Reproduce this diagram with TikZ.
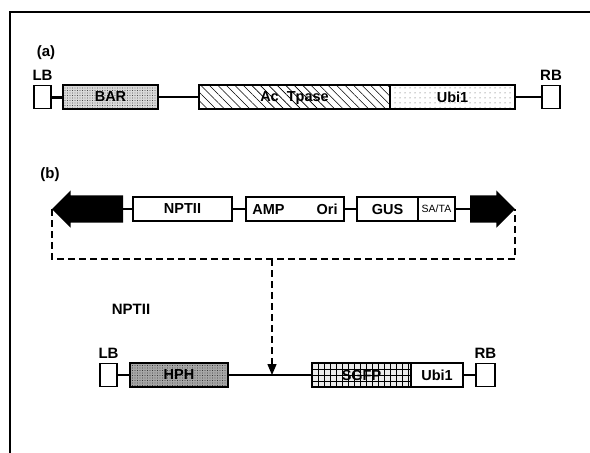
\documentclass[tikz,border=0pt]{standalone}
\usepackage{fontspec}
\setmainfont{Liberation Sans}
\usetikzlibrary{positioning,arrows.meta,shapes.arrows,patterns.meta}

\begin{document}
\begin{tikzpicture}[x=1pt, y=-1pt,
    every node/.style={font=\fontsize{15}{15}\selectfont\bfseries},
    gene/.style={draw, line width=1.1pt, inner sep=0pt, outer sep=0pt,
                 minimum height=24pt, text depth=0pt,
                 font=\fontsize{14.5}{14.5}\selectfont\bfseries},
    border/.style={draw, line width=1.1pt, fill=white, inner sep=0pt,
                   outer sep=0pt, minimum width=17pt, minimum height=23pt},
    link/.style={line width=2pt},
    marker/.style={single arrow, fill=black, inner xsep=0pt, inner ysep=13.5pt,
                   outer sep=0pt, single arrow head extend=5pt,
                   single arrow tip angle=90},
    loop/.style={line width=1.3pt, dash pattern=on 7pt off 4pt}
  ]
  \useasboundingbox (0,0) rectangle (590,453);
  \draw[line width=1.1pt] (10,453) -- (10,12) -- (590,12);

  % (a)
  \node (tag a) at (46,53) {(a)};
  \node[border] (lb a) at (42.5,97) {};
  \node[above=1pt of lb a] (lb a txt) {LB};
  \node[gene, minimum width=95pt, right=12pt of lb a,
        preaction={fill=gray!30},
        pattern={Dots[distance=2.5pt, radius=0.35pt]}] (bar) {BAR};
  \node[gene, minimum width=191pt, right=41pt of bar,
        pattern={Lines[angle=-45, distance=6pt, line width=0.6pt]}] (tpase) {Ac\hspace{8pt}Tpase};
  \node[gene, minimum width=125pt, right=0pt of tpase,
        pattern={Dots[distance=5pt, radius=0.5pt]},
        pattern color=black!75] (ubi a) {Ubi1};
  \node[border, minimum width=18pt, right=27pt of ubi a] (rb a) {};
  \node[above=1pt of rb a] (rb a txt) {RB};
  \draw[link, line width=3pt] (lb a) -- (bar);
  \draw[link] (bar) -- (tpase);
  \draw[link] (ubi a) -- (rb a);

  % (b)
  \node (tag b) at (50,175) {(b)};
  \node[marker, shape border rotate=180, minimum height=71pt, anchor=tip] (larr) at (52,209) {};
  \node[gene, minimum width=99pt, fill=white] (npt) at (182.5,209) {NPTII};
  \node[gene, minimum width=98pt, right=14pt of npt] (amp) {AMP\hspace{32pt}Ori};
  \node[gene, minimum width=61pt, right=13pt of amp] (gus) {GUS};
  \node[gene, minimum width=37pt, right=0pt of gus,
        font=\fontsize{10.5}{10.5}\selectfont] (sata) {SA/TA};
  \node[marker, minimum height=45pt, anchor=tip] (rarr) at (515,209) {};
  \draw[link] (larr.tail) -- (npt);
  \draw[link] (npt) -- (amp);
  \draw[link] (amp) -- (gus);
  \draw[link] (sata) -- (rarr.tail);
  \draw[loop] (larr.tip) -- ++(0,50) -| (rarr.tip);
  \coordinate (drop) at (272,259);

  % construct
  \node (npt txt) at (131,309) {NPTII};
  \node[border] (lb b) at (108.5,375) {};
  \node[above=1pt of lb b] (lb b txt) {LB};
  \node[gene, minimum width=98pt, right=13pt of lb b,
        preaction={fill=gray!70},
        pattern={Dots[distance=2.5pt, radius=0.4pt]}] (hph) {HPH};
  \node[gene, minimum width=99pt, right=84pt of hph,
        preaction={fill=gray!15},
        pattern={Hatch[angle=0, distance=6pt, line width=0.6pt]}] (sgfp) {SGFP};
  \node[gene, minimum width=52pt, right=0pt of sgfp] (ubi b) {Ubi1};
  \node[border, minimum width=19pt, right=13pt of ubi b] (rb b) {};
  \node[above=1pt of rb b] (rb b txt) {RB};
  \draw[link] (lb b) -- (hph);
  \draw[link] (hph) -- (sgfp);
  \draw[link] (ubi b) -- (rb b);
  \draw[loop, -{Triangle[width=9pt, length=11pt]}] (drop) -- (drop |- hph.east);
\end{tikzpicture}
\end{document}
